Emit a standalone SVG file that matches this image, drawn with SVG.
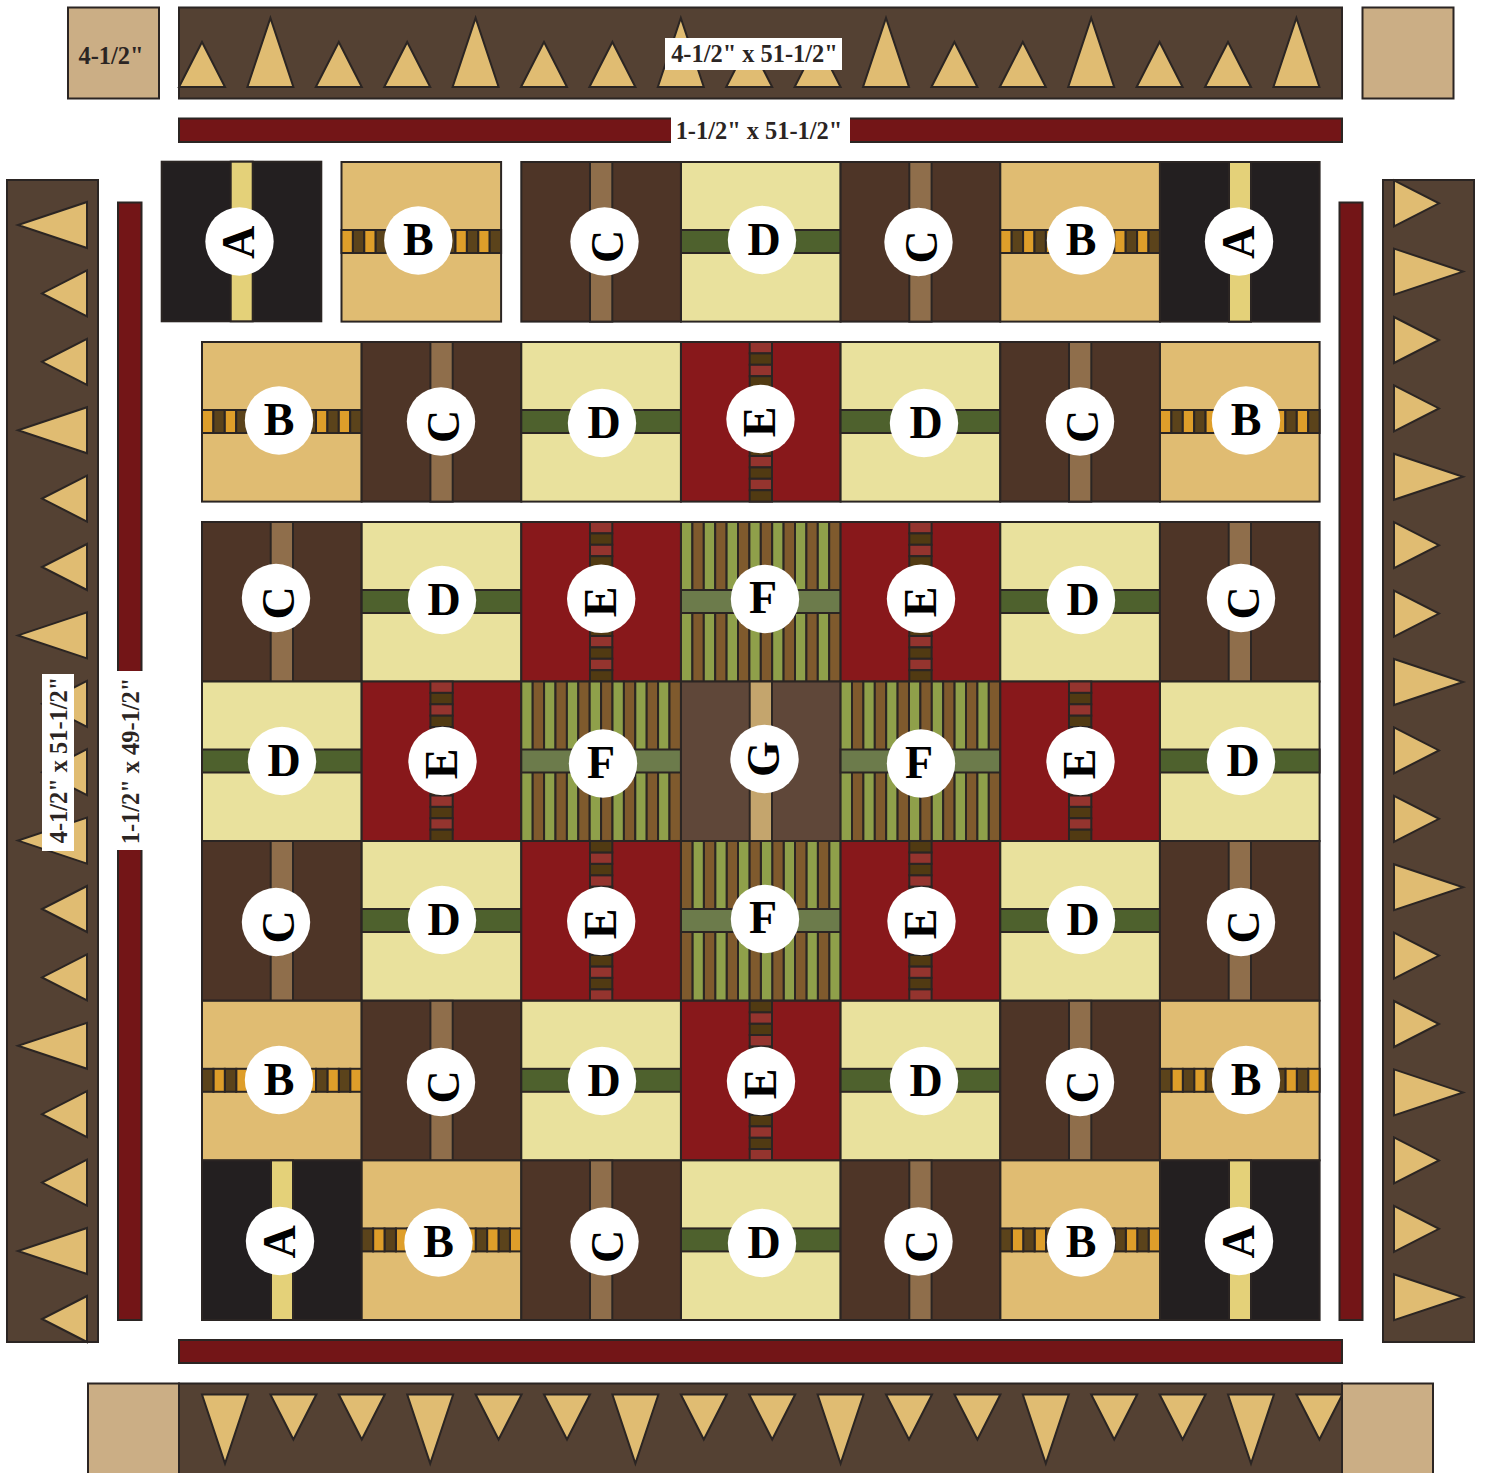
<svg xmlns="http://www.w3.org/2000/svg" width="1485" height="1473" viewBox="0 0 1485 1473">
<style>
.s{stroke:#2b2523;stroke-width:2}
.tan{fill:#cbae85}.bord{fill:#544133}.red{fill:#731517}
.t{fill:#e0bc72;stroke:#2b2523;stroke-width:2}
.o{fill:#de9e2a}.od{fill:#5b431b}.el{fill:#94342e}.ed{fill:#513a12}.fg{fill:#8fa04a}.fb{fill:#7f5a2d}
.c{fill:#fff}
.L{font-family:"Liberation Serif",serif;font-weight:bold;font-size:46px;text-anchor:middle;fill:#000}
.lab{font-family:"Liberation Serif",serif;font-weight:bold;font-size:24.4px;text-anchor:middle;fill:#2b2523}
</style>
<defs>
<polygon id="ts" class="t" points="-23,0 0,-45 23,0"/>
<polygon id="tt" class="t" points="-23,0 0,-69 23,0"/>
<g id="blockA"><rect class="s" width="159.6" height="159.6" fill="#231f20"/><rect class="s" x="69" width="22" height="159.6" fill="#e4d179" stroke="#231f20"/></g>
<g id="blockC"><rect class="s" width="159.6" height="159.6" fill="#4e3527"/><rect class="s" x="68.7" width="22.3" height="159.6" fill="#8f6e4b"/></g>
<g id="blockD"><rect class="s" width="159.6" height="159.6" fill="#e9e19d"/><rect class="s" y="68" width="159.6" height="23" fill="#4e612d"/></g>
<g id="blockG"><rect class="s" width="159.6" height="159.6" fill="#5f4739"/><rect class="s" x="68.7" width="22.3" height="159.6" fill="#c4a56d"/></g>
<g id="blockB"><rect class="s" width="159.6" height="159.6" fill="#e0bc72"/>
<g class="s"><rect class="o" x="0" y="68" width="11.4" height="23"/><rect class="od" x="11.4" y="68" width="11.4" height="23"/><rect class="o" x="22.8" y="68" width="11.4" height="23"/><rect class="od" x="34.2" y="68" width="11.4" height="23"/><rect class="o" x="45.6" y="68" width="11.4" height="23"/><rect class="od" x="57" y="68" width="11.4" height="23"/><rect class="o" x="68.4" y="68" width="11.4" height="23"/><rect class="od" x="79.8" y="68" width="11.4" height="23"/><rect class="o" x="91.2" y="68" width="11.4" height="23"/><rect class="od" x="102.6" y="68" width="11.4" height="23"/><rect class="o" x="114" y="68" width="11.4" height="23"/><rect class="od" x="125.4" y="68" width="11.4" height="23"/><rect class="o" x="136.8" y="68" width="11.4" height="23"/><rect class="od" x="148.2" y="68" width="11.4" height="23"/></g></g>
<g id="blockE"><rect class="s" width="159.6" height="159.6" fill="#88181b"/>
<g class="s"><rect class="el" x="68.7" y="0" width="22.3" height="11.4"/><rect class="ed" x="68.7" y="11.4" width="22.3" height="11.4"/><rect class="el" x="68.7" y="22.8" width="22.3" height="11.4"/><rect class="ed" x="68.7" y="34.2" width="22.3" height="11.4"/><rect class="el" x="68.7" y="45.6" width="22.3" height="11.4"/><rect class="ed" x="68.7" y="57" width="22.3" height="11.4"/><rect class="el" x="68.7" y="68.4" width="22.3" height="11.4"/><rect class="ed" x="68.7" y="79.8" width="22.3" height="11.4"/><rect class="el" x="68.7" y="91.2" width="22.3" height="11.4"/><rect class="ed" x="68.7" y="102.6" width="22.3" height="11.4"/><rect class="el" x="68.7" y="114" width="22.3" height="11.4"/><rect class="ed" x="68.7" y="125.4" width="22.3" height="11.4"/><rect class="el" x="68.7" y="136.8" width="22.3" height="11.4"/><rect class="ed" x="68.7" y="148.2" width="22.3" height="11.4"/></g></g>
<g id="blockF"><g class="s"><rect class="fg" x="0" width="11.4" height="159.6"/><rect class="fb" x="11.4" width="11.4" height="159.6"/><rect class="fg" x="22.8" width="11.4" height="159.6"/><rect class="fb" x="34.2" width="11.4" height="159.6"/><rect class="fg" x="45.6" width="11.4" height="159.6"/><rect class="fb" x="57" width="11.4" height="159.6"/><rect class="fg" x="68.4" width="11.4" height="159.6"/><rect class="fb" x="79.8" width="11.4" height="159.6"/><rect class="fg" x="91.2" width="11.4" height="159.6"/><rect class="fb" x="102.6" width="11.4" height="159.6"/><rect class="fg" x="114" width="11.4" height="159.6"/><rect class="fb" x="125.4" width="11.4" height="159.6"/><rect class="fg" x="136.8" width="11.4" height="159.6"/><rect class="fb" x="148.2" width="11.4" height="159.6"/></g><rect class="s" y="68" width="159.6" height="23" fill="#6c7b4b"/></g>
</defs>

<g id="border-top"><rect class="s bord" x="179" y="7.5" width="1163" height="91"/>
<use href="#ts" transform="translate(202,87)"/><use href="#tt" transform="translate(270.4,87)"/><use href="#ts" transform="translate(338.8,87)"/><use href="#ts" transform="translate(407.2,87)"/><use href="#tt" transform="translate(475.6,87)"/><use href="#ts" transform="translate(544,87)"/><use href="#ts" transform="translate(612.4,87)"/><use href="#tt" transform="translate(680.8,87)"/><use href="#ts" transform="translate(749.2,87)"/><use href="#ts" transform="translate(817.6,87)"/><use href="#tt" transform="translate(886,87)"/><use href="#ts" transform="translate(954.4,87)"/><use href="#ts" transform="translate(1022.8,87)"/><use href="#tt" transform="translate(1091.2,87)"/><use href="#ts" transform="translate(1159.6,87)"/><use href="#ts" transform="translate(1228,87)"/><use href="#tt" transform="translate(1296.4,87)"/>
<rect x="665" y="38" width="177" height="32" fill="#fff"/><text class="lab" x="754.5" y="62">4-1/2" x 51-1/2"</text></g>
<g id="corner-tl"><rect class="s tan" x="68" y="7.5" width="91" height="91"/><text class="lab" x="111" y="64">4-1/2"</text></g>
<g id="corner-tr"><rect class="s tan" x="1362.5" y="7.5" width="91" height="91"/></g>

<g id="sash-top"><rect class="s red" x="179" y="118.5" width="1163" height="23.5"/><rect x="671" y="117" width="179" height="27" fill="#fff"/><text class="lab" x="759" y="139">1-1/2" x 51-1/2"</text></g>
<g id="sash-bottom"><rect class="s red" x="179" y="1340" width="1163" height="23"/></g>
<g id="sash-left"><rect class="s red" x="118" y="202.5" width="23.5" height="1117.5"/><rect x="117" y="671" width="26" height="179" fill="#fff"/><text class="lab" transform="translate(138.5,761) rotate(-90)">1-1/2" x 49-1/2"</text></g>
<g id="sash-right"><rect class="s red" x="1339.5" y="202.5" width="23" height="1117.5"/></g>

<g id="border-left"><rect class="s bord" x="7" y="180" width="91" height="1162"/>
<use href="#tt" transform="translate(87,225) rotate(-90)"/><use href="#ts" transform="translate(87,293.4) rotate(-90)"/><use href="#ts" transform="translate(87,361.8) rotate(-90)"/><use href="#tt" transform="translate(87,430.2) rotate(-90)"/><use href="#ts" transform="translate(87,498.6) rotate(-90)"/><use href="#ts" transform="translate(87,567) rotate(-90)"/><use href="#tt" transform="translate(87,635.4) rotate(-90)"/><use href="#ts" transform="translate(87,703.8) rotate(-90)"/><use href="#ts" transform="translate(87,772.2) rotate(-90)"/><use href="#tt" transform="translate(87,840.6) rotate(-90)"/><use href="#ts" transform="translate(87,909) rotate(-90)"/><use href="#ts" transform="translate(87,977.4) rotate(-90)"/><use href="#tt" transform="translate(87,1045.8) rotate(-90)"/><use href="#ts" transform="translate(87,1114.2) rotate(-90)"/><use href="#ts" transform="translate(87,1182.6) rotate(-90)"/><use href="#tt" transform="translate(87,1251) rotate(-90)"/><use href="#ts" transform="translate(87,1319) rotate(-90)"/>
<rect x="42" y="674" width="32" height="177" fill="#fff"/><text class="lab" transform="translate(66.5,760) rotate(-90)">4-1/2" x 51-1/2"</text></g>

<g id="border-right"><rect class="s bord" x="1383" y="180" width="91" height="1162"/>
<use href="#ts" transform="translate(1394,203.3) rotate(90)"/><use href="#tt" transform="translate(1394,271.6) rotate(90)"/><use href="#ts" transform="translate(1394,340) rotate(90)"/><use href="#ts" transform="translate(1394,408.4) rotate(90)"/><use href="#tt" transform="translate(1394,476.8) rotate(90)"/><use href="#ts" transform="translate(1394,545.2) rotate(90)"/><use href="#ts" transform="translate(1394,613.6) rotate(90)"/><use href="#tt" transform="translate(1394,682) rotate(90)"/><use href="#ts" transform="translate(1394,750.4) rotate(90)"/><use href="#ts" transform="translate(1394,818.8) rotate(90)"/><use href="#tt" transform="translate(1394,887.2) rotate(90)"/><use href="#ts" transform="translate(1394,955.6) rotate(90)"/><use href="#ts" transform="translate(1394,1024) rotate(90)"/><use href="#tt" transform="translate(1394,1092.4) rotate(90)"/><use href="#ts" transform="translate(1394,1160.4) rotate(90)"/><use href="#ts" transform="translate(1394,1228.8) rotate(90)"/><use href="#tt" transform="translate(1394,1297.2) rotate(90)"/></g>

<g id="border-bottom"><rect class="s bord" x="179" y="1383.5" width="1163" height="91"/>
<use href="#tt" transform="translate(225,1394.5) rotate(180)"/><use href="#ts" transform="translate(293.4,1394.5) rotate(180)"/><use href="#ts" transform="translate(361.8,1394.5) rotate(180)"/><use href="#tt" transform="translate(430.2,1394.5) rotate(180)"/><use href="#ts" transform="translate(498.6,1394.5) rotate(180)"/><use href="#ts" transform="translate(567,1394.5) rotate(180)"/><use href="#tt" transform="translate(635.4,1394.5) rotate(180)"/><use href="#ts" transform="translate(703.8,1394.5) rotate(180)"/><use href="#ts" transform="translate(772.2,1394.5) rotate(180)"/><use href="#tt" transform="translate(840.6,1394.5) rotate(180)"/><use href="#ts" transform="translate(909,1394.5) rotate(180)"/><use href="#ts" transform="translate(977.4,1394.5) rotate(180)"/><use href="#tt" transform="translate(1045.8,1394.5) rotate(180)"/><use href="#ts" transform="translate(1114.2,1394.5) rotate(180)"/><use href="#ts" transform="translate(1182.6,1394.5) rotate(180)"/><use href="#tt" transform="translate(1251,1394.5) rotate(180)"/><use href="#ts" transform="translate(1319.4,1394.5) rotate(180)"/></g>
<g id="corner-bl"><rect class="s tan" x="88" y="1383.5" width="91" height="91"/></g>
<g id="corner-br"><rect class="s tan" x="1342" y="1383.5" width="91" height="91"/></g>

<g id="row1">
<g id="r1-A1"><use href="#blockA" x="161.7" y="161.7"/><circle class="c" cx="239.5" cy="241.5" r="34.2"/><text class="L" transform="translate(254,242.5) rotate(-90)">A</text></g>
<g id="r1-B1"><use href="#blockB" x="341.5" y="162"/><circle class="c" cx="418.3" cy="240.5" r="34.2"/><text class="L" x="418.3" y="255">B</text></g>
<g id="r1-C1"><use href="#blockC" x="521.3" y="162"/><circle class="c" cx="604.5" cy="241.5" r="34.2"/><text class="L" transform="translate(622.5,246.5) rotate(-90)">C</text></g>
<g id="r1-D"><use href="#blockD" x="681" y="162"/><circle class="c" cx="762" cy="240" r="34.2"/><text class="L" x="764" y="254.5">D</text></g>
<g id="r1-C2"><use href="#blockC" x="840.6" y="162"/><circle class="c" cx="918.5" cy="242" r="34.2"/><text class="L" transform="translate(936.5,247) rotate(-90)">C</text></g>
<g id="r1-B2"><use href="#blockB" x="1000.3" y="162"/><circle class="c" cx="1081" cy="240.5" r="34.2"/><text class="L" x="1081" y="255">B</text></g>
<g id="r1-A2"><use href="#blockA" x="1160" y="162"/><circle class="c" cx="1239" cy="241.5" r="34.2"/><text class="L" transform="translate(1253.5,242.5) rotate(-90)">A</text></g>
</g>
<g id="row2">
<g id="r2-B1"><use href="#blockB" x="202" y="342"/><circle class="c" cx="279" cy="420.5" r="34.2"/><text class="L" x="279" y="435">B</text></g>
<g id="r2-C1"><use href="#blockC" x="361.7" y="342"/><circle class="c" cx="441" cy="421.5" r="34.2"/><text class="L" transform="translate(459,426.5) rotate(-90)">C</text></g>
<g id="r2-D1"><use href="#blockD" x="521.3" y="342"/><circle class="c" cx="602" cy="423" r="34.2"/><text class="L" x="604" y="437.5">D</text></g>
<g id="r2-E"><use href="#blockE" x="681" y="342"/><circle class="c" cx="760.5" cy="419" r="34.2"/><text class="L" transform="translate(775,422) rotate(-90)">E</text></g>
<g id="r2-D2"><use href="#blockD" x="840.6" y="342"/><circle class="c" cx="924" cy="423" r="34.2"/><text class="L" x="926" y="437.5">D</text></g>
<g id="r2-C2"><use href="#blockC" x="1000.3" y="342"/><circle class="c" cx="1080" cy="421.5" r="34.2"/><text class="L" transform="translate(1098,426.5) rotate(-90)">C</text></g>
<g id="r2-B2"><use href="#blockB" x="1160" y="342"/><circle class="c" cx="1246" cy="420.5" r="34.2"/><text class="L" x="1246" y="435">B</text></g>
</g>
<g id="row3">
<g id="r3-C1"><use href="#blockC" x="202" y="522"/><circle class="c" cx="276" cy="598" r="34.2"/><text class="L" transform="translate(294,603) rotate(-90)">C</text></g>
<g id="r3-D1"><use href="#blockD" x="361.7" y="522"/><circle class="c" cx="442" cy="600" r="34.2"/><text class="L" x="444" y="614.5">D</text></g>
<g id="r3-E1"><use href="#blockE" x="521.3" y="522"/><circle class="c" cx="601.2" cy="598.8" r="34.2"/><text class="L" transform="translate(615.7,602) rotate(-90)">E</text></g>
<g id="r3-F"><use href="#blockF" x="681" y="522"/><circle class="c" cx="765" cy="599" r="34.2"/><text class="L" x="763" y="613">F</text></g>
<g id="r3-E2"><use href="#blockE" x="840.6" y="522"/><circle class="c" cx="921" cy="598.8" r="34.2"/><text class="L" transform="translate(935.5,602) rotate(-90)">E</text></g>
<g id="r3-D2"><use href="#blockD" x="1000.3" y="522"/><circle class="c" cx="1081" cy="600" r="34.2"/><text class="L" x="1083" y="614.5">D</text></g>
<g id="r3-C2"><use href="#blockC" x="1160" y="522"/><circle class="c" cx="1241" cy="598" r="34.2"/><text class="L" transform="translate(1259,603) rotate(-90)">C</text></g>
</g>
<g id="row4">
<g id="r4-D1"><use href="#blockD" x="202" y="681.5"/><circle class="c" cx="282" cy="761" r="34.2"/><text class="L" x="284" y="775.5">D</text></g>
<g id="r4-E1"><use href="#blockE" x="361.7" y="681.5"/><circle class="c" cx="442.5" cy="761" r="34.2"/><text class="L" transform="translate(456.7,764) rotate(-90)">E</text></g>
<g id="r4-F1"><use href="#blockF" x="521.3" y="681.5"/><circle class="c" cx="603" cy="763.5" r="34.2"/><text class="L" x="601" y="777.5">F</text></g>
<g id="r4-G"><use href="#blockG" x="681" y="681.5"/><circle class="c" cx="764.5" cy="759" r="34.2"/><text class="L" transform="translate(779,759) rotate(-90)">G</text></g>
<g id="r4-F2"><use href="#blockF" x="840.6" y="681.5"/><circle class="c" cx="921" cy="763.5" r="34.2"/><text class="L" x="919" y="777.5">F</text></g>
<g id="r4-E2"><use href="#blockE" x="1000.3" y="681.5"/><circle class="c" cx="1080.5" cy="761" r="34.2"/><text class="L" transform="translate(1095,764) rotate(-90)">E</text></g>
<g id="r4-D2"><use href="#blockD" x="1160" y="681.5"/><circle class="c" cx="1241" cy="761" r="34.2"/><text class="L" x="1243" y="775.5">D</text></g>
</g>
<g id="row5">
<g id="r5-C1"><use href="#blockC" x="202" y="841"/><circle class="c" cx="276" cy="922" r="34.2"/><text class="L" transform="translate(294,927) rotate(-90)">C</text></g>
<g id="r5-D1"><use href="#blockD" x="361.7" y="841"/><circle class="c" cx="442" cy="920" r="34.2"/><text class="L" x="444" y="934.5">D</text></g>
<g id="r5-E1"><use href="#blockE" transform="translate(521.3,1000.6) scale(1,-1)"/><circle class="c" cx="601.2" cy="921" r="34.2"/><text class="L" transform="translate(615.7,924) rotate(-90)">E</text></g>
<g id="r5-F"><use href="#blockF" transform="translate(840.6,841) scale(-1,1)"/><circle class="c" cx="765" cy="919" r="34.2"/><text class="L" x="763" y="933">F</text></g>
<g id="r5-E2"><use href="#blockE" transform="translate(840.6,1000.6) scale(1,-1)"/><circle class="c" cx="921.5" cy="921" r="34.2"/><text class="L" transform="translate(936,924) rotate(-90)">E</text></g>
<g id="r5-D2"><use href="#blockD" x="1000.3" y="841"/><circle class="c" cx="1081" cy="920" r="34.2"/><text class="L" x="1083" y="934.5">D</text></g>
<g id="r5-C2"><use href="#blockC" x="1160" y="841"/><circle class="c" cx="1241" cy="922" r="34.2"/><text class="L" transform="translate(1259,927) rotate(-90)">C</text></g>
</g>
<g id="row6">
<g id="r6-B1"><use href="#blockB" transform="translate(361.6,1000.8) scale(-1,1)"/><circle class="c" cx="279" cy="1080" r="34.2"/><text class="L" x="279" y="1094.5">B</text></g>
<g id="r6-C1"><use href="#blockC" x="361.7" y="1000.8"/><circle class="c" cx="441" cy="1082" r="34.2"/><text class="L" transform="translate(459,1087) rotate(-90)">C</text></g>
<g id="r6-D1"><use href="#blockD" x="521.3" y="1000.8"/><circle class="c" cx="602" cy="1081" r="34.2"/><text class="L" x="604" y="1095.5">D</text></g>
<g id="r6-E"><use href="#blockE" transform="translate(681,1160.4) scale(1,-1)"/><circle class="c" cx="761" cy="1081" r="34.2"/><text class="L" transform="translate(775.5,1084) rotate(-90)">E</text></g>
<g id="r6-D2"><use href="#blockD" x="840.6" y="1000.8"/><circle class="c" cx="924" cy="1081" r="34.2"/><text class="L" x="926" y="1095.5">D</text></g>
<g id="r6-C2"><use href="#blockC" x="1000.3" y="1000.8"/><circle class="c" cx="1080" cy="1082" r="34.2"/><text class="L" transform="translate(1098,1087) rotate(-90)">C</text></g>
<g id="r6-B2"><use href="#blockB" transform="translate(1319.6,1000.8) scale(-1,1)"/><circle class="c" cx="1246" cy="1080" r="34.2"/><text class="L" x="1246" y="1094.5">B</text></g>
</g>
<g id="row7">
<g id="r7-A1"><use href="#blockA" x="202" y="1160.4"/><circle class="c" cx="280" cy="1241" r="34.2"/><text class="L" transform="translate(294.5,1242) rotate(-90)">A</text></g>
<g id="r7-B1"><use href="#blockB" transform="translate(521.3,1160.4) scale(-1,1)"/><circle class="c" cx="438.5" cy="1242.5" r="34.2"/><text class="L" x="438.5" y="1257">B</text></g>
<g id="r7-C1"><use href="#blockC" x="521.3" y="1160.4"/><circle class="c" cx="604.5" cy="1241.5" r="34.2"/><text class="L" transform="translate(622.5,1246.5) rotate(-90)">C</text></g>
<g id="r7-D"><use href="#blockD" x="681" y="1160.4"/><circle class="c" cx="762" cy="1243" r="34.2"/><text class="L" x="764" y="1257.5">D</text></g>
<g id="r7-C2"><use href="#blockC" x="840.6" y="1160.4"/><circle class="c" cx="918.5" cy="1241.5" r="34.2"/><text class="L" transform="translate(936.5,1246.5) rotate(-90)">C</text></g>
<g id="r7-B2"><use href="#blockB" transform="translate(1160,1160.4) scale(-1,1)"/><circle class="c" cx="1081" cy="1242.5" r="34.2"/><text class="L" x="1081" y="1257">B</text></g>
<g id="r7-A2"><use href="#blockA" x="1160" y="1160.4"/><circle class="c" cx="1239" cy="1241" r="34.2"/><text class="L" transform="translate(1253.5,1242) rotate(-90)">A</text></g>
</g>
</svg>
